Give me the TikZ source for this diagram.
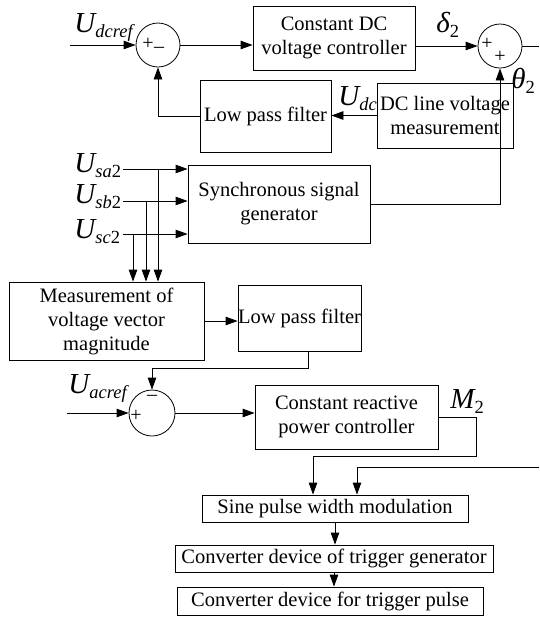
\documentclass[tikz,border=0pt]{standalone}
\usepackage{fontspec}
\setmainfont{Liberation Serif}
\usetikzlibrary{arrows.meta}
\newcommand\symlab[2]{{\fontsize{29}{29}\selectfont\itshape #1}\raisebox{-5pt}{\fontsize{18.5}{18.5}\selectfont\itshape #2}}
\newcommand\sgn[1]{{\fontsize{20}{20}\selectfont #1}}
\begin{document}
\begin{tikzpicture}[x=1pt,y=-1pt, line width=0.8pt,
 box/.style={draw, align=center, inner sep=0pt, font=\fontsize{20.5}{24}\selectfont},
 sumc/.style={draw, circle, minimum size=44pt, inner sep=0pt},
 arr/.style={-{Triangle[length=12pt,width=8.5pt]}},
 lab/.style={anchor=base west, inner sep=0pt},
 sg/.style={inner sep=0pt}]
\useasboundingbox (0,0) rectangle (539,630);
% boxes
\node[box, minimum width=162pt, minimum height=64pt] (cdc) at (334,38) {Constant DC\\voltage controller};
\node[box, minimum width=131pt, minimum height=72pt] (lpf1) at (265.5,116) {Low pass filter};
\node[box, minimum width=136pt, minimum height=65pt] (dcm) at (445,115.5) {DC line voltage\\measurement};
\node[box, minimum width=182pt, minimum height=78pt] (ssg) at (279,204) {Synchronous signal\\generator};
\node[box, minimum width=195pt, minimum height=78pt] (mvm) at (106.5,321) {Measurement of\\voltage vector\\magnitude};
\node[box, minimum width=113pt, minimum height=66pt] (lpf2) at (299.5,318) {Low pass filter};
\node[box, minimum width=183pt, minimum height=64pt] (crp) at (346.5,417) {Constant reactive\\power controller};
\node[box, minimum width=266pt, minimum height=27pt] (spwm) at (335,508.5) {Sine pulse width modulation};
\node[box, minimum width=318pt, minimum height=27pt] (ctg) at (334,558.5) {Converter device of trigger generator};
\node[box, minimum width=306pt, minimum height=28pt] (ctp) at (330,601) {Converter device for trigger pulse};
% summing junctions
\node[sumc] (s1) at (158,45) {};
\node[sumc] (s2) at (500,46) {};
\node[sumc, minimum size=46pt] (s3) at (152,413) {};
\node[sg] (s1p) at (148,44) {\sgn{+}};
\node[sg] (s1m) at (159,50) {\sgn{–}};
\node[sg] (s2p) at (487,44) {\sgn{+}};
\node[sg] (s2q) at (500,57) {\sgn{+}};
\node[sg] (s3m) at (152,398) {\sgn{–}};
\node[sg] (s3p) at (136,416) {\sgn{+}};
% labels
\node[lab] (lUdcref) at (74,32) {\symlab{U}{dcref}};
\node[lab] (ldelta) at (436,32) {\symlab{δ}{\upshape 2}};
\node[lab] (ltheta) at (511,88) {\symlab{θ}{\upshape 2}};
\node[lab] (lUdc) at (338,105) {\symlab{U}{dc}};
\node[lab] (lUa) at (74,172) {\symlab{U}{sa\upshape 2}};
\node[lab] (lUb) at (74,203) {\symlab{U}{sb\upshape 2}};
\node[lab] (lUc) at (74,238) {\symlab{U}{sc\upshape 2}};
\node[lab] (lUac) at (68,393) {\symlab{U}{acref}};
\node[lab] (lM) at (450,408) {\symlab{M}{\upshape 2}};
% coordinates
\coordinate (inU) at (70,45);
\coordinate (outd) at (539,46);
\coordinate (ia) at (123,169);
\coordinate (ib) at (123,201);
\coordinate (ic) at (123,234);
\coordinate (ta) at (158,169);
\coordinate (tb) at (146,201);
\coordinate (tc) at (133,234);
\coordinate (k1) at (308,368);
\coordinate (inA) at (67,413);
\coordinate (m1) at (476,456);
\coordinate (m2) at (313,456);
\coordinate (r1) at (539,467);
\coordinate (r2) at (357,467);
% connectors
\draw[arr] (inU) -- (s1.west);
\draw[arr] (s1.east) -- (s1.east -| cdc.west);
\draw[arr] (s2.west -| cdc.east) -- (s2.west);
\draw (s2.east) -- (outd);
\draw[arr] (dcm.west) -- (dcm.west -| lpf1.east);
\draw[arr] (lpf1.west) -| (s1.south);
\draw[arr] (ssg.east) -| (s2.south);
\draw[arr] (ia) -- (ia -| ssg.west);
\draw[arr] (ib) -- (ib -| ssg.west);
\draw[arr] (ic) -- (ic -| ssg.west);
\draw[arr] (ta) -- (ta |- mvm.north);
\draw[arr] (tb) -- (tb |- mvm.north);
\draw[arr] (tc) -- (tc |- mvm.north);
\draw[arr] (mvm.east) -- (mvm.east -| lpf2.west);
\draw[arr] (k1 |- lpf2.south) -- (k1) -| (s3.north);
\draw[arr] (inA) -- (s3.west);
\draw[arr] (s3.east) -- (s3.east -| crp.west);
\draw[arr] (crp.east) -| (m1) -- (m2) -- (m2 |- spwm.north);
\draw[arr] (r1) -- (r2) -- (r2 |- spwm.north);
\draw[arr] (spwm.south) -- (spwm.south |- ctg.north);
\draw[arr] (ctg.south) -- (ctg.south |- ctp.north);
\end{tikzpicture}
\end{document}
